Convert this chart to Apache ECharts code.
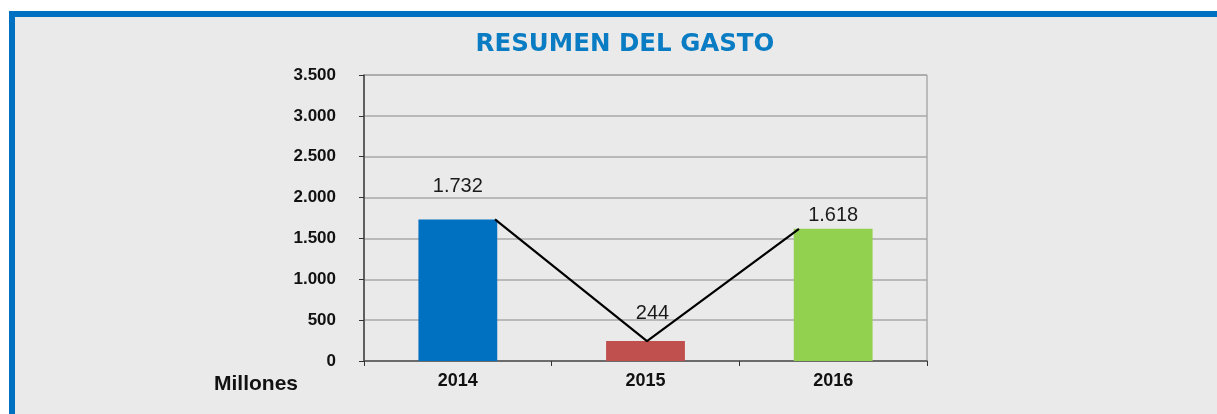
<!DOCTYPE html>
<html>
<head>
<meta charset="utf-8">
<script src="https://cdn.jsdelivr.net/npm/echarts@6/dist/echarts.min.js"></script>
<style>
  html, body { margin: 0; padding: 0; background: #fff; }
  #frame {
    position: absolute; left: 9px; top: 11px; width: 1300px; height: 500px;
    border-left: 6px solid #0070c0; border-top: 6px solid #0070c0;
    background: #eaeaea;
  }
  #chart { position: absolute; left: 0; top: 0; width: 1217px; height: 414px; }
</style>
</head>
<body>
<div id="frame"></div>
<div id="chart"></div>
<script>
// datos del gráfico
var years = ['2014', '2015', '2016']
var gasto = [1732, 244, 1618]
var yMin = 0
var yMax = 3500
var yStep = 500

// estilos
var barColors = ['#0070c0', '#c0504d', '#92d050']
var labelOffsets = [[0, -18], [7, -13], [0, 2]]

function miles (v) {
  return String(v).replace(/\B(?=(\d{3})+(?!\d))/g, '.')
}

var chart = echarts.init(document.getElementById('chart'))

chart.setOption({
  animation: false,
  backgroundColor: 'transparent',
  title: {
    text: 'RESUMEN DEL GASTO',
    left: 620,
    top: 27,
    textAlign: 'center',
    textStyle: { color: '#0a7cc3', fontFamily: 'DejaVu Sans', fontWeight: 'bold', fontSize: 24.5 }
  },
  graphic: [{
    type: 'text',
    left: 214,
    top: 374,
    style: { text: 'Millones', fill: '#111', font: 'bold 21px "Liberation Sans", Arial' }
  }],
  grid: [
    { left: 364, right: 290, top: 75, bottom: 53, show: true, borderColor: '#8c8c8c', borderWidth: 1, backgroundColor: 'transparent' },
    // segunda rejilla para la línea (Excel la dibuja más estrecha)
    { left: 495, right: 418, top: 75, bottom: 53 }
  ],
  xAxis: [
    {
      type: 'category',
      gridIndex: 0,
      data: years,
      axisLine: { lineStyle: { color: '#555', width: 1.5 } },
      axisTick: { show: true, length: 5, lineStyle: { color: '#333' } },
      axisLabel: { color: '#111', fontFamily: 'Liberation Sans', fontWeight: 'bold', fontSize: 18, margin: 11 }
    },
    {
      type: 'category',
      gridIndex: 1,
      data: years,
      boundaryGap: false,
      show: false
    }
  ],
  yAxis: [
    {
      type: 'value',
      gridIndex: 0,
      min: yMin,
      max: yMax,
      interval: yStep,
      axisLine: { show: true, lineStyle: { color: '#404040', width: 1.5 } },
      axisTick: { show: true, length: 5, lineStyle: { color: '#333' } },
      splitLine: { lineStyle: { color: '#a8a8a8', width: 1.5 } },
      axisLabel: {
        color: '#111', fontFamily: 'Liberation Sans', fontWeight: 'bold', fontSize: 17, margin: 28,
        formatter: miles
      }
    },
    { type: 'value', gridIndex: 1, min: yMin, max: yMax, show: false }
  ],
  series: [
    {
      type: 'bar',
      xAxisIndex: 0,
      yAxisIndex: 0,
      barWidth: '42%',
      data: gasto.map(function (v, i) {
        return {
          value: v,
          itemStyle: { color: barColors[i] },
          label: { offset: labelOffsets[i] }
        }
      }),
      label: {
        show: true,
        position: 'top',
        color: '#1a1a1a',
        fontFamily: 'Liberation Sans',
        fontSize: 20,
        formatter: function (p) { return miles(p.value) }
      }
    },
    {
      type: 'line',
      xAxisIndex: 1,
      yAxisIndex: 1,
      data: gasto,
      symbol: 'none',
      z: 5,
      lineStyle: { color: '#000', width: 2.2 }
    }
  ]
})
</script>
</body>
</html>
